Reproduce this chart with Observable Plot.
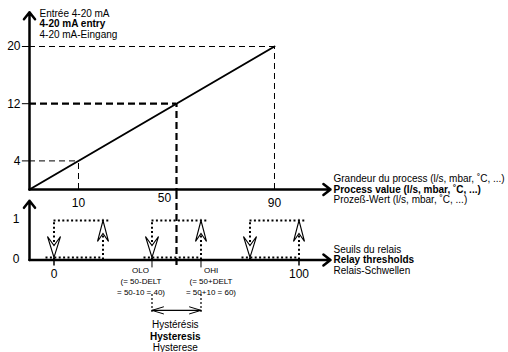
<!DOCTYPE html>
<html><head><meta charset="utf-8">
<script src="https://cdn.jsdelivr.net/npm/d3@7"></script>
<script src="https://cdn.jsdelivr.net/npm/@observablehq/plot@0.6"></script>
<style>
body{margin:0;background:#fff;}
#wrap{position:relative;width:508px;height:352px;}
#topChart,#botChart{position:absolute;left:0;}
#topChart{top:0}
#botChart{top:195px}
</style></head><body><div id="wrap"><div id="topChart"></div><div id="botChart"></div></div>
<script>
// ---- data ----
const processTicks = [10, 50, 90];          // process value (%)
const mATicks = [4, 12, 20];                // mA input
const transferX = [-10, 90];                // transfer line, process value
const transferY = [0, 20];                  // transfer line, mA
const relayOff = [0, 40, 80];               // switch-off thresholds (down arrows)
const relayOn = [20, 60, 100];              // switch-on thresholds (up arrows)
const relayLevels = [0, 1];
const relayAxisTicks = [0, 100];
const oloValue = 40, ohiValue = 60;
const yTitle = ["Entrée 4-20 mA", "4-20 mA entry", "4-20 mA-Eingang"];
const xTitle = ["Grandeur du process (l/s, mbar, ˚C, ...)", "Process value (l/s, mbar, ˚C, ...)", "Prozeß-Wert (l/s, mbar, ˚C, ...)"];
const relayTitle = ["Seuils du relais", "Relay thresholds", "Relais-Schwellen"];
const oloText = ["OLO", "(= 50-DELT", "= 50-10 = 40)"];
const ohiText = ["OHI", "(= 50+DELT", "= 50+10 = 60)"];
const hystText = ["Hystérésis", "Hysteresis", "Hysterese"];

// ---- derived tables ----
const points = processTicks.map((x, i) => ({x, y: mATicks[i]}));
const transfer = transferX.map((x, i) => ({x, y: transferY[i]}));
const loops = relayOff.map((lo, i) => ({lo, hi: relayOn[i]}));

const FONT = "'Liberation Sans', Arial, Helvetica, sans-serif";
const X0 = -10, X1 = 112.86;
const style = {fontFamily: FONT, background: "none", overflow: "visible"};
const thin = {stroke: "black", strokeWidth: 1, strokeDasharray: "6,4"};
const thick = {stroke: "black", strokeWidth: 2.2, strokeDasharray: "7,4"};
const dotted = {stroke: "black", strokeWidth: 2, strokeDasharray: "2,2.4"};
const LS = 10.6; // line spacing for stacked labels

// ---- top: transfer function ----
const topPlot = Plot.plot({
  width: 508, height: 200,
  marginLeft: 29, marginRight: 178, marginTop: 46, marginBottom: 11,
  style,
  x: {domain: [X0, X1], axis: null},
  y: {domain: [0, 20], axis: null},
  marks: [
    Plot.ruleY(points, {filter: d => d.x !== 50, y: "y", x1: X0, x2: "x", ...thin}),
    Plot.ruleX(points, {filter: d => d.x !== 50, x: "x", y1: 0, y2: "y", ...thin}),
    Plot.ruleY(points, {filter: d => d.x === 50, y: "y", x1: X0, x2: "x", ...thick}),
    Plot.ruleX(points, {filter: d => d.x === 50, x: "x", y1: -0.84, y2: "y", ...thick}),
    Plot.ruleY(points, {y: "y", x1: -12.9, x2: X0, stroke: "black", strokeWidth: 1}),
    Plot.text(points, {x: X0, y: "y", text: d => String(d.y), dx: -9, textAnchor: "end", fontSize: 12}),
    Plot.text(points, {filter: d => d.x !== 50, x: "x", y: 0, text: d => String(d.x), dy: 14, fontSize: 12}),
    Plot.text(points, {filter: d => d.x === 50, x: "x", y: 0, text: d => String(d.x), dy: 9, dx: -12, fontSize: 12}),
    Plot.line(transfer, {x: "x", y: "y", stroke: "black", strokeWidth: 2}),
    Plot.arrow([0], {x1: X0, y1: 0, x2: X0, y2: 24.8, stroke: "black", strokeWidth: 2.5, headLength: 5.4, headAngle: 76}),
    Plot.arrow([0], {x1: X0, y1: 0, x2: X1, y2: 0, stroke: "black", strokeWidth: 2.5, headLength: 5.4, headAngle: 76}),
    Plot.text([yTitle[0]], {x: X0, y: 20, text: d => d, dx: 10, dy: -12 - 2 * LS, textAnchor: "start", fontSize: 10}),
    Plot.text([yTitle[1]], {x: X0, y: 20, text: d => d, dx: 10, dy: -12 - LS, textAnchor: "start", fontSize: 10, fontWeight: "bold"}),
    Plot.text([yTitle[2]], {x: X0, y: 20, text: d => d, dx: 10, dy: -12, textAnchor: "start", fontSize: 10}),
    Plot.text([xTitle[0]], {x: X1, y: 0, text: d => d, dx: 3, dy: -LS, textAnchor: "start", fontSize: 10}),
    Plot.text([xTitle[1]], {x: X1, y: 0, text: d => d, dx: 3, dy: 0, textAnchor: "start", fontSize: 10, fontWeight: "bold"}),
    Plot.text([xTitle[2]], {x: X1, y: 0, text: d => d, dx: 3, dy: LS, textAnchor: "start", fontSize: 10})
  ]
});
document.getElementById("topChart").append(topPlot);

// ---- bottom: relay thresholds ----
const headDown = {draw(ctx) { ctx.moveTo(0, 0); ctx.lineTo(-6.5, -21); ctx.lineTo(0, -12); ctx.lineTo(6.5, -21); ctx.closePath(); }};
const headUp = {draw(ctx) { ctx.moveTo(0, 0); ctx.lineTo(-5.5, 21); ctx.lineTo(0, 13); ctx.lineTo(5.5, 21); ctx.closePath(); }};

const botPlot = Plot.plot({
  width: 508, height: 157,
  marginLeft: 29, marginRight: 178, marginTop: 25, marginBottom: 92.5,
  style,
  x: {domain: [X0, X1], axis: null},
  y: {domain: [0, 1], axis: null},
  marks: [
    Plot.ruleX([processTicks[1]], {y1: -0.14, y2: 1.63, ...thick}),
    Plot.ruleY(loops, {y: 1, x1: "lo", x2: "hi", insetRight: -8, ...dotted}),
    Plot.ruleY(loops, {y: 0, x1: "lo", x2: "hi", insetLeft: -8, dy: -2.5, ...dotted}),
    Plot.ruleX(loops, {x: "lo", y1: 0, y2: 1, ...dotted}),
    Plot.ruleX(loops, {x: "hi", y1: 0, y2: 1, ...dotted}),
    Plot.ruleX(relayAxisTicks, {y1: 0, y2: -0.15, stroke: "black", strokeWidth: 1.5}),
    Plot.ruleX([oloValue, ohiValue], {y1: 0, y2: -0.2, stroke: "black", strokeWidth: 1}),
    Plot.arrow([0], {x1: X0, y1: 0, x2: X0, y2: 1.5, stroke: "black", strokeWidth: 2.5, headLength: 5.4, headAngle: 76}),
    Plot.arrow([0], {x1: X0, y1: 0, x2: X1, y2: 0, stroke: "black", strokeWidth: 2.5, headLength: 5.4, headAngle: 76}),
    Plot.dot(loops, {x: "lo", y: 0, dy: -2.5, symbol: headDown, r: 5, fill: "white", stroke: "black", strokeWidth: 1.1}),
    Plot.dot(loops, {x: "hi", y: 1, symbol: headUp, r: 5, fill: "white", stroke: "black", strokeWidth: 1.1}),
    Plot.text(relayLevels, {x: X0, y: d => d, text: d => String(d), dx: -10, dy: -1, textAnchor: "end", fontSize: 12}),
    Plot.text(relayAxisTicks, {x: d => d, y: 0, text: d => String(d), dy: 14, fontSize: 12}),
    Plot.text([relayTitle[0]], {x: X1, y: 0, text: d => d, dx: 3, dy: -LS, textAnchor: "start", fontSize: 10}),
    Plot.text([relayTitle[1]], {x: X1, y: 0, text: d => d, dx: 3, dy: 0, textAnchor: "start", fontSize: 10, fontWeight: "bold"}),
    Plot.text([relayTitle[2]], {x: X1, y: 0, text: d => d, dx: 3, dy: LS, textAnchor: "start", fontSize: 10}),
    Plot.text([oloText[0]], {x: oloValue, y: 0, text: d => d, dx: -3, dy: 10, textAnchor: "end", fontSize: 8}),
    Plot.text([oloText[1]], {x: oloValue, y: 0, text: d => d, dx: -11, dy: 21, fontSize: 8}),
    Plot.text([oloText[2]], {x: oloValue, y: 0, text: d => d, dx: -11, dy: 32, fontSize: 8}),
    Plot.text([ohiText[0]], {x: ohiValue, y: 0, text: d => d, dx: 3, dy: 10, textAnchor: "start", fontSize: 8}),
    Plot.text([ohiText[1]], {x: ohiValue, y: 0, text: d => d, dx: 10, dy: 21, fontSize: 8}),
    Plot.text([ohiText[2]], {x: ohiValue, y: 0, text: d => d, dx: 10, dy: 32, fontSize: 8}),
    Plot.ruleX([oloValue, ohiValue], {y1: -0.875, y2: -1.33, stroke: "black", strokeWidth: 1.2, strokeDasharray: "2,2"}),
    Plot.arrow([0], {x1: ohiValue, y1: -1.275, x2: oloValue, y2: -1.275, stroke: "black", strokeWidth: 1, headLength: 18, headAngle: 34}),
    Plot.arrow([0], {x1: oloValue, y1: -1.275, x2: ohiValue, y2: -1.275, stroke: "black", strokeWidth: 1, headLength: 18, headAngle: 34}),
    Plot.text([hystText[0]], {x: 49.5, y: -1.275, text: d => d, dy: 14, fontSize: 10}),
    Plot.text([hystText[1]], {x: 49.5, y: -1.275, text: d => d, dy: 26, fontSize: 10, fontWeight: "bold"}),
    Plot.text([hystText[2]], {x: 49.5, y: -1.275, text: d => d, dy: 37.5, fontSize: 10})
  ]
});
document.getElementById("botChart").append(botPlot);
</script></body></html>
